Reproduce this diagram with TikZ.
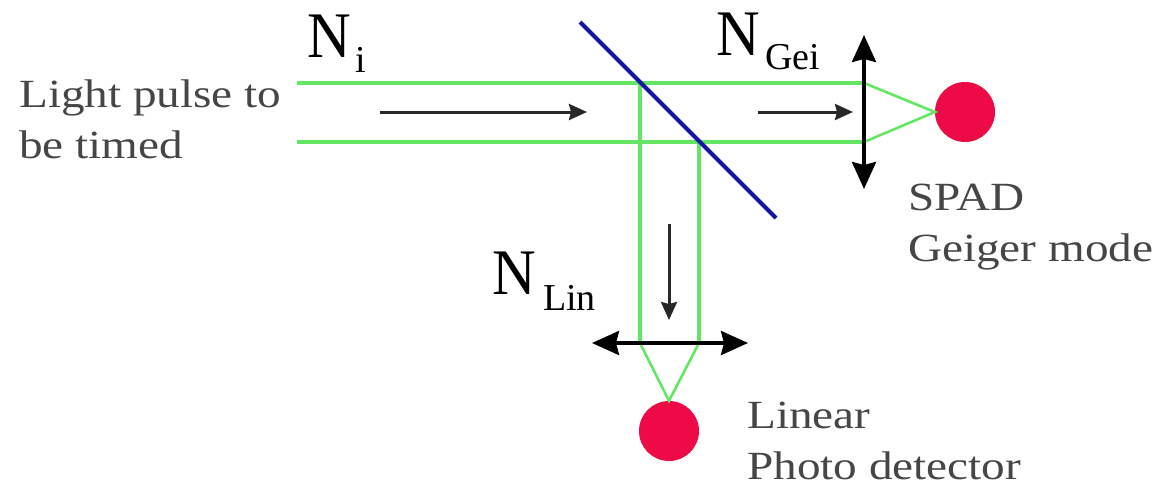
\documentclass[tikz,border=0pt]{standalone}
\usepackage{fontspec}
\setmainfont{Liberation Serif}
\newfontfamily\labelfont[FakeStretch=1.18]{Liberation Serif}
\newfontfamily\symfont[FakeStretch=0.93]{Liberation Serif}
\usetikzlibrary{arrows.meta}
\definecolor{beam}{RGB}{100,230,100}
\definecolor{det}{RGB}{238,10,70}
\definecolor{mirror}{RGB}{20,20,165}
\definecolor{lab}{RGB}{70,70,70}
\definecolor{flowc}{RGB}{40,40,40}
\tikzset{beamline/.style={draw=beam,line width=3.6pt,line join=miter},
 thinbeam/.style={draw=beam,line width=2.6pt},
 dblarrow/.style={draw=black,line width=3.5pt,{Stealth[length=27pt,width=24pt,inset=3pt]}-{Stealth[length=27pt,width=24pt,inset=3pt]}},
 flow/.style={draw=flowc,line width=3pt,-{Stealth[length=18pt,width=16pt,inset=2pt]}},
 detector/.style={circle,fill=det,minimum size=60pt,inner sep=0pt},
 desc/.style={inner sep=0pt,text=lab,font=\labelfont\fontsize{40}{51}\selectfont,align=left,anchor=west},
 sym/.style={inner sep=0pt,font=\symfont\fontsize{65}{68}\selectfont,anchor=base west},
 sub/.style={inner sep=0pt,font=\fontsize{38}{40}\selectfont,anchor=base west}}
\begin{document}
\begin{tikzpicture}[x=1pt,y=-1pt]
\useasboundingbox (0,0) rectangle (1174,485);
\coordinate (b1s) at (297,83); \coordinate (b1m) at (640,83); \coordinate (b1e) at (864,83);
\coordinate (b2s) at (297,142); \coordinate (b2m) at (699,142); \coordinate (b2e) at (864,142);
\coordinate (c1) at (640,343); \coordinate (c2) at (699,343);
\node[detector] (spad) at (965,112) {};
\node[detector] (lin) at (669,431) {};
\draw[beamline] (b1s) -- (b1e);
\draw[beamline] (b2s) -- (b2e);
\draw[beamline] (b1m) -- (c1);
\draw[beamline] (b2m) -- (c2);
\draw[thinbeam] (b1e) -- (spad.west) -- (b2e);
\draw[thinbeam] (c1) -- (lin.north) -- (c2);
\coordinate (m1) at (580,22); \coordinate (m2) at (776,218);
\draw[draw=mirror,line width=4pt] (m1) -- (m2);
\coordinate (l1a) at (864,35); \coordinate (l1b) at (864,189);
\draw[dblarrow] (l1a) -- (l1b);
\coordinate (l2a) at (592,343); \coordinate (l2b) at (748,343);
\draw[dblarrow] (l2a) -- (l2b);
\coordinate (f1a) at (380,112); \coordinate (f1b) at (587,112);
\coordinate (f2a) at (758,112); \coordinate (f2b) at (853,112);
\coordinate (f3a) at (669,224); \coordinate (f3b) at (669,320);
\draw[flow] (f1a) -- (f1b);
\draw[flow] (f2a) -- (f2b);
\draw[flow] (f3a) -- (f3b);
\node[desc] (t1) at (19,119) {Light pulse to\\be timed};
\node[desc] (t2) at (908,227) {SPAD\\Geiger mode};
\node[desc] (t4) at (747,441) {Linear\\Photo detector};
\node[sym] (ni) at (307,57) {N};
\node[sub] (nis) at (355,72) {i};
\node[sym] (ng) at (716,55) {N};
\node[sub] (ngs) at (765,69) {Gei};
\node[sym] (nl) at (492,294) {N};
\node[sub] (nls) at (543,310) {Lin};
\end{tikzpicture}
\end{document}
